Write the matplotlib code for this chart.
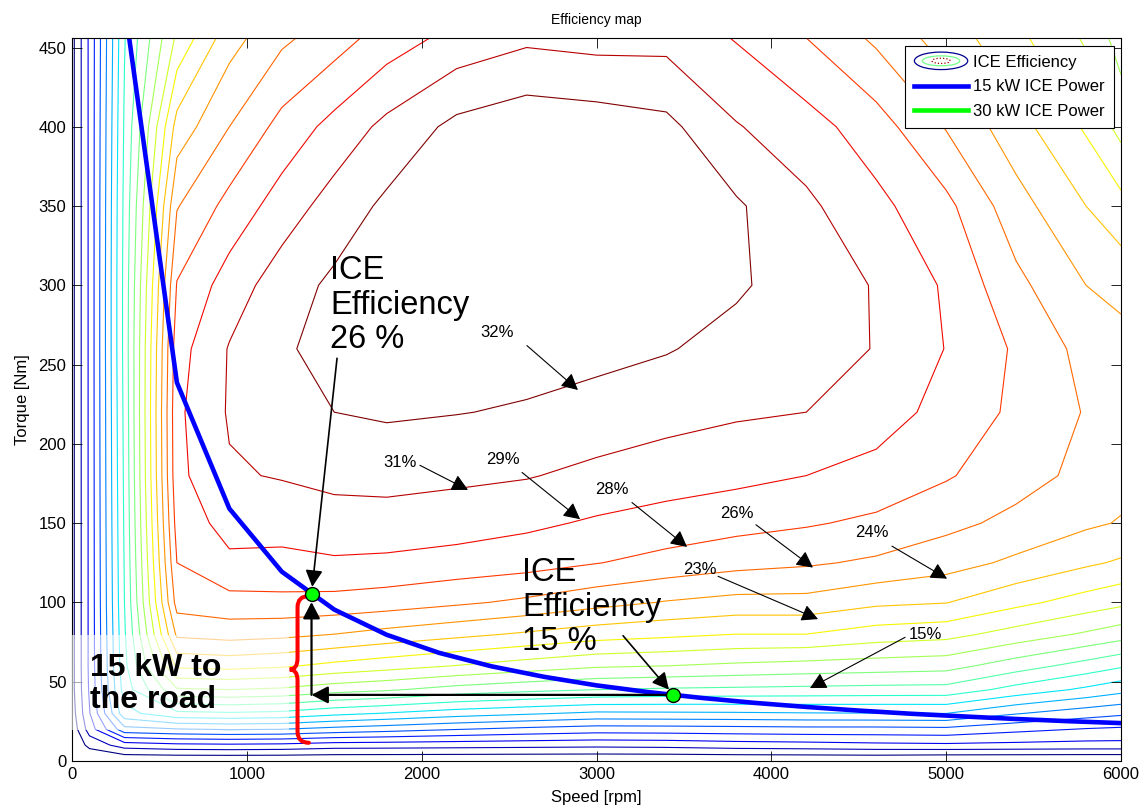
import numpy as np
import matplotlib
matplotlib.use("Agg")
import matplotlib.pyplot as plt
from matplotlib.legend_handler import HandlerBase
from matplotlib.patches import Ellipse, Rectangle, PathPatch
from matplotlib.path import Path
from matplotlib.lines import Line2D

plt.rcParams['font.family'] = ['Liberation Sans', 'DejaVu Sans']

# engine map breakpoints
speed_grid = [0, 100, 300, 600, 900, 1200, 1500, 1800, 2200, 2600,
              3000, 3400, 3800, 4200, 4600, 5000, 5400, 5800, 6000]
torque_grid = [0, 10, 20, 30, 45, 60, 80, 100, 125, 150, 180, 220, 260, 300, 350, 400, 456]

# efficiency [%], one list per speed breakpoint (torque going up)
eff_0    = [0.0, 0.5, 1.0, 1.3, 1.5, 1.5, 1.5, 1.5, 1.5, 1.5, 1.5, 1.5, 1.5, 1.5, 1.5, 1.5, 1.5]
eff_100  = [0.2, 2.5, 4.2, 4.9, 5.2, 5.3, 5.3, 5.3, 5.3, 5.3, 5.3, 5.3, 5.3, 5.3, 5.3, 5.3, 5.3]
eff_300  = [0.5, 4.2, 9.0, 12.0, 13.2, 13.6, 13.8, 14.0, 14.1, 14.2, 14.3, 14.4, 14.5, 14.5, 14.4, 14.2, 13.9]
eff_600  = [0.5, 4.6, 9.4, 13.6, 18.3, 21.8, 24.8, 26.6, 27.5, 28.1, 28.6, 28.7, 28.4, 27.6, 25.9, 23.6, 20.3]
eff_900  = [0.5, 4.7, 9.6, 13.8, 18.5, 22.0, 25.1, 27.0, 28.7, 29.55, 30.35, 30.65, 30.6, 29.7, 28.0, 26.0, 23.9]
eff_1200 = [0.5, 4.6, 9.5, 13.6, 18.25, 21.7, 24.9, 27.1, 28.6, 29.6, 30.6, 31.4, 31.8, 31.3, 29.7, 28.0, 25.7]
eff_1500 = [0.5, 4.25, 9.0, 12.9, 17.6, 21.1, 24.5, 27.0, 28.8, 29.9, 30.9, 32.0, 32.5, 32.3, 31.15, 29.5, 26.8]
eff_1800 = [0.5, 4.2, 8.6, 12.4, 17.2, 20.6, 24.0, 26.75, 28.7, 29.9, 31.0, 32.2, 32.5, 32.5, 32.3, 30.9, 28.2]
eff_2200 = [0.5, 4.1, 8.05, 11.7, 16.4, 19.95, 23.4, 26.25, 28.4, 29.7, 30.8, 32.05, 32.6, 32.9, 32.8, 32.4, 29.5]
eff_2600 = [0.5, 4.0, 7.6, 11.2, 15.9, 19.3, 22.8, 25.7, 28.1, 29.3, 30.6, 31.85, 32.6, 33.1, 33.1, 33.0, 30.2]
eff_3000 = [0.5, 3.9, 7.25, 10.7, 15.5, 18.7, 22.2, 25.0, 27.55, 28.8, 30.1, 31.5, 32.4, 33.0, 33.0, 32.8, 29.95]
eff_3400 = [0.5, 4.0, 7.3, 10.75, 15.3, 18.5, 21.85, 24.4, 27.0, 28.4, 29.7, 31.05, 32.1, 32.6, 32.7, 32.4, 30.0]
eff_3800 = [0.5, 4.27, 7.4, 10.8, 15.2, 18.2, 21.5, 24.0, 26.5, 28.0, 29.4, 30.7, 31.5, 32.2, 32.2, 30.6, 28.9]
eff_4200 = [0.5, 4.4, 7.5, 10.9, 15.1, 17.95, 21.5, 24.0, 26.2, 27.65, 29.0, 30.5, 31.0, 31.3, 30.8, 29.6, 27.5]
eff_4600 = [0.5, 4.6, 7.5, 10.95, 15.0, 17.75, 20.8, 23.3, 25.75, 27.2, 28.5, 29.7, 30.45, 30.4, 29.4, 28.2, 25.7]
eff_5000 = [0.3, 4.7, 7.6, 11.0, 14.95, 17.55, 20.5, 23.05, 25.1, 26.4, 27.65, 28.5, 28.95, 28.8, 27.9, 25.9, 23.8]
eff_5400 = [0.3, 4.6, 6.9, 9.6, 13.45, 16.2, 19.4, 21.9, 24.2, 25.6, 26.6, 27.2, 27.3, 26.4, 25.1, 23.6, 21.9]
eff_5800 = [0.3, 4.5, 6.4, 8.65, 12.2, 14.9, 18.3, 20.85, 23.25, 24.75, 25.6, 25.9, 25.5, 24.5, 23.0, 21.3, 19.8]
eff_6000 = [0.3, 4.5, 6.25, 8.25, 11.5, 14.2, 17.7, 20.35, 22.8, 24.4, 25.0, 25.5, 25.1, 24.0, 22.0, 19.5, 17.8]

eff_levels = [2.0, 3.5, 5.0, 6.5, 8.0, 9.5, 11.0, 12.5, 14.0, 15.5, 17.0,
              18.5, 20.0, 21.5, 23.0, 24.5, 26.0, 27.5, 29.0, 30.5, 32.0]

# 15 kW constant power line
power_speed = [300, 600, 900, 1200, 1500, 1800, 2100, 2400, 2700, 3000,
               3300, 3600, 3900, 4200, 4500, 4800, 5100, 5400, 5700, 6000]
power_torque = [477.5, 238.7, 159.2, 119.4, 95.5, 79.6, 68.2, 59.7, 53.1, 47.7,
                43.4, 39.8, 36.7, 34.1, 31.8, 29.8, 28.1, 26.5, 25.1, 23.9]

# operating points (speed, torque)
point_a = (1370, 105.5)   # 26 %
point_b = (3440, 41.7)    # 15 %
brace_speed = 1290
brace_bottom = 11.5

label_text = ['32%', '31%', '29%', '28%', '26%', '24%', '23%', '15%']
label_xy = [(2431, 270), (1876, 188), (2465, 190), (3089, 171),
            (3804, 156), (4576, 144), (3592, 121), (4879, 80)]
label_from = [(2602, 262), (1990, 186.5), (2574, 182), (3203, 163),
              (3912, 149), (4690, 135.5), (3695, 116.5), (4765, 78)]
label_to = [(2894, 234), (2265, 171), (2906, 152.5), (3518, 135),
            (4238, 122), (5005, 115), (4267, 89.5), (4221, 46)]


class EfficiencyKey:
    pass


class EfficiencyKeyHandler(HandlerBase):
    def create_artists(self, legend, orig_handle, xdescent, ydescent,
                       width, height, fontsize, trans):
        cx = 0.5 * width - xdescent
        cy = 0.5 * height - ydescent
        rings = []
        for w, h, c, ls in [(1.0, 1.5, (0, 0, 0.56), '-'),
                            (0.7, 0.85, (0.45, 1, 0.55), '-'),
                            (0.34, 0.45, (0.6, 0, 0), ':')]:
            rings.append(Ellipse((cx, cy), w * width, h * height, fill=False,
                                 edgecolor=c, lw=0.9, ls=ls, transform=trans))
        return rings


fig = plt.figure(figsize=(11.44, 8.08), dpi=100)
ax = fig.add_axes([72 / 1144, 47 / 808, 1049 / 1144, 723 / 808])

eff = np.array([eff_0, eff_100, eff_300, eff_600, eff_900, eff_1200, eff_1500,
                eff_1800, eff_2200, eff_2600, eff_3000, eff_3400, eff_3800,
                eff_4200, eff_4600, eff_5000, eff_5400, eff_5800, eff_6000]).T

ax.contour(speed_grid, torque_grid, eff, levels=eff_levels, cmap='jet',
           vmin=2, vmax=32, linewidths=0.8, zorder=1)

ax.plot(power_speed, power_torque, color=(0, 0, 1), lw=3.3, zorder=2)

# red brace under the first operating point
top = point_a[1] - 1.5
mid = 0.5 * (top + brace_bottom)
r = 7
hook = 65
tip = 45
verts = [(brace_speed + hook, top), (brace_speed, top), (brace_speed, top - r),
         (brace_speed, mid + r), (brace_speed, mid), (brace_speed - tip, mid),
         (brace_speed, mid), (brace_speed, mid - r),
         (brace_speed, brace_bottom + r), (brace_speed, brace_bottom),
         (brace_speed + hook, brace_bottom)]
codes = [Path.MOVETO, Path.CURVE3, Path.CURVE3, Path.LINETO, Path.CURVE3, Path.CURVE3,
         Path.CURVE3, Path.CURVE3, Path.LINETO, Path.CURVE3, Path.CURVE3]
ax.add_patch(PathPatch(Path(verts, codes), fill=False, edgecolor=(1, 0, 0),
                       lw=2.9, capstyle='round', zorder=2))

head = dict(arrowstyle='-|>,head_length=0.5,head_width=0.26', color='k',
            lw=0.8, mutation_scale=20, shrinkA=0, shrinkB=0)

for txt, xy, p0, p1 in zip(label_text, label_xy, label_from, label_to):
    ax.text(xy[0], xy[1], txt, fontsize=12, ha='center', va='center', zorder=6)
    ax.annotate('', xy=p1, xytext=p0, arrowprops=head, zorder=5)

# path from the 15 % point to the 26 % point
corner = (point_a[0], point_b[1])
bold_head = dict(head, lw=1.6)
ax.annotate('', xy=corner, xytext=point_b, arrowprops=bold_head, zorder=3)
ax.annotate('', xy=point_a, xytext=corner,
            arrowprops=dict(bold_head, shrinkB=6), zorder=3)

ax.annotate('', xy=point_a, xytext=(1516, 254),
            arrowprops=dict(head, lw=1.2, shrinkB=5), zorder=5)
ax.annotate('', xy=point_b, xytext=(3152, 79),
            arrowprops=dict(head, lw=1.2, shrinkB=5), zorder=5)

ax.plot([point_a[0], point_b[0]], [point_a[1], point_b[1]], 'o', ls='none',
        ms=10, mfc=(0, 1, 0), mec='k', mew=1, zorder=4)

ax.text(1476, 319, 'ICE\nEfficiency\n26 %', fontsize=23.5, ha='left', va='top',
        linespacing=1.15, zorder=6)
ax.text(2574, 128.5, 'ICE\nEfficiency\n15 %', fontsize=23.5, ha='left', va='top',
        linespacing=1.15, zorder=6)

# washed-out panel behind the road power note
ax.add_patch(Rectangle((0, 0.043), 0.207, 0.131, transform=ax.transAxes,
                       facecolor='white', edgecolor='none', alpha=0.6, zorder=4.5))
ax.text(103, 48.5, '15 kW to\nthe road', fontsize=23, fontweight='bold',
        ha='left', va='center', linespacing=1.12, zorder=6)

ax.set_xlim(0, 6000)
ax.set_ylim(0, 456)
ax.set_xticks([0, 1000, 2000, 3000, 4000, 5000, 6000])
ax.set_yticks([0, 50, 100, 150, 200, 250, 300, 350, 400, 450])
ax.tick_params(direction='in', length=7, width=0.6, top=True, right=True,
               labelsize=12, pad=4)
for s in ax.spines.values():
    s.set_linewidth(0.8)

ax.set_title('Efficiency map', fontsize=10, pad=10)
ax.set_xlabel('Speed [rpm]', fontsize=12, labelpad=6)
ax.set_ylabel('Torque [Nm]', fontsize=12, labelpad=6)

handles = [EfficiencyKey(),
           Line2D([], [], color=(0, 0, 1), lw=3.3),
           Line2D([], [], color=(0, 1, 0), lw=3.3)]
labels = ['ICE Efficiency', '15 kW ICE Power', '30 kW ICE Power']
leg = ax.legend(handles, labels, loc='upper right', fontsize=12,
                handler_map={EfficiencyKey: EfficiencyKeyHandler()},
                handlelength=3.2, handletextpad=0.3, labelspacing=0.58,
                borderaxespad=0.45, borderpad=0.55, fancybox=False,
                framealpha=1, edgecolor='k')
leg.get_frame().set_linewidth(0.8)
leg.set_zorder(7)

fig.savefig('out.png', dpi=100)
